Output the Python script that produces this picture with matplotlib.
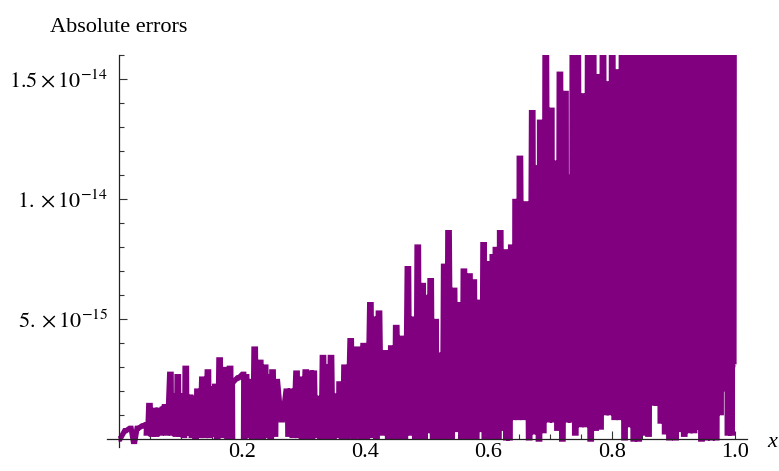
import numpy as np
import matplotlib
matplotlib.use("Agg")
from matplotlib import pyplot as plt
from matplotlib.ticker import FixedLocator, FixedFormatter, NullFormatter

plt.rcParams['font.family'] = ['Liberation Serif', 'DejaVu Serif']
plt.rcParams['mathtext.fontset'] = 'stix'
plt.rcParams['path.simplify'] = False

# absolute error samples, values in units of 1e-15
x_left = [0.000, 0.010, 0.018, 0.024, 0.030, 0.038, 0.043, 0.045, 0.049, 0.053,
          0.057, 0.060, 0.064, 0.067, 0.071, 0.074, 0.077, 0.083, 0.086, 0.089,
          0.092, 0.095, 0.098, 0.102, 0.105, 0.108, 0.111, 0.115, 0.118, 0.122,
          0.124, 0.127, 0.130, 0.135, 0.139, 0.144, 0.147, 0.151, 0.153, 0.156,
          0.159, 0.163, 0.167, 0.172, 0.176, 0.180, 0.183, 0.185, 0.193, 0.201,
          0.203, 0.206, 0.209, 0.213, 0.216, 0.220, 0.224, 0.229, 0.233, 0.237,
          0.240, 0.244, 0.246, 0.249, 0.253, 0.256, 0.264, 0.272, 0.275, 0.279,
          0.282, 0.288, 0.291, 0.295, 0.297, 0.303, 0.307, 0.311, 0.313, 0.316,
          0.320, 0.324, 0.327, 0.331, 0.335, 0.338, 0.340, 0.344, 0.348, 0.353,
          0.355, 0.358, 0.362, 0.366, 0.370]
err_left = [0.00, 0.35, 0.45, -0.10, 0.45, 0.55, 0.60, 0.25, 1.40, 0.20,
            1.20, 0.20, 1.20, 0.25, 1.25, 1.35, 0.25, 2.70, 0.25, 1.80,
            0.20, 2.60, 0.20, 1.80, 0.15, 2.95, 0.25, 1.75, 0.15, 1.70,
            0.10, 2.00, 0.15, 2.50, 0.15, 2.80, 0.15, 2.10, 0.20, 2.20,
            0.10, 3.30, 0.15, 2.90, 0.10, 2.95, 0.10, 2.40, 2.55, 2.70,
            0.10, 2.60, 0.15, 2.40, 0.10, 3.75, 0.10, 3.20, 0.10, 3.00,
            0.15, 2.60, 0.10, 2.80, 0.20, 2.40, 0.80, 2.00, 0.20, 2.00,
            0.15, 2.75, 0.15, 2.50, 0.10, 2.80, 0.10, 2.75, 0.10, 2.75,
            0.15, 1.70, 0.10, 3.40, 0.10, 3.00, 0.10, 3.40, 0.10, 1.80,
            0.15, 2.30, 0.10, 3.00, 0.10]

x_mid = [0.376, 0.381, 0.387, 0.392, 0.397, 0.402, 0.408, 0.412, 0.415, 0.418,
         0.422, 0.427, 0.432, 0.437, 0.442, 0.446, 0.450, 0.455, 0.460, 0.464,
         0.469, 0.473, 0.477, 0.481, 0.485, 0.489, 0.493, 0.496, 0.499, 0.502,
         0.506, 0.510, 0.514, 0.517, 0.521, 0.524, 0.528, 0.531, 0.535, 0.540,
         0.544, 0.548, 0.552, 0.556, 0.560, 0.565, 0.569, 0.572, 0.576, 0.580,
         0.584, 0.588, 0.592, 0.594, 0.597, 0.600, 0.602, 0.605, 0.607, 0.610,
         0.612, 0.616, 0.619, 0.623, 0.627, 0.629, 0.631, 0.634, 0.637, 0.641,
         0.644, 0.648, 0.651, 0.656, 0.661, 0.666, 0.671, 0.675, 0.679, 0.682,
         0.684, 0.689]
err_mid = [4.10, 0.10, 3.75, 0.10, 3.90, 0.10, 5.60, 0.15, 5.00, 0.10,
           5.25, 0.25, 3.60, 0.10, 3.80, 0.10, 4.65, 0.10, 4.20, 0.10,
           7.10, 0.25, 5.00, 0.10, 8.00, 0.10, 6.40, 0.10, 5.90, 0.35,
           6.60, 0.10, 4.90, 0.10, 3.50, 0.10, 7.20, 0.10, 8.60, 0.10,
           6.20, 0.40, 5.60, 0.10, 7.00, 0.10, 6.80, 0.10, 6.55, 0.10,
           5.70, 0.40, 8.10, 0.10, 7.30, 0.10, 7.30, 0.40, 7.60, 0.10,
           7.90, 0.10, 8.60, 0.45, 7.80, 0.05, 6.70, 0.05, 8.00, 0.90,
           9.90, 0.90, 11.70, 0.90, 9.80, 0.05, 13.60, 0.30, 11.30, 0.00,
           13.20, 0.35]

x_right = [0.693, 0.698, 0.702, 0.705, 0.708, 0.712, 0.716, 0.720, 0.725, 0.728,
           0.731, 0.734, 0.737, 0.741, 0.745, 0.749, 0.754, 0.758, 0.762, 0.766,
           0.770, 0.774, 0.778, 0.782, 0.786, 0.790, 0.793, 0.797, 0.801, 0.805,
           0.809, 0.813, 0.817, 0.821, 0.825, 0.828, 0.832, 0.836, 0.840, 0.844,
           0.848, 0.852, 0.856, 0.860, 0.864, 0.868, 0.871, 0.874, 0.877, 0.880,
           0.884, 0.887, 0.891, 0.894, 0.897, 0.899, 0.902, 0.904, 0.907, 0.911,
           0.914, 0.918, 0.922, 0.926, 0.930, 0.934, 0.937, 0.940, 0.943, 0.946,
           0.950, 0.954, 0.958, 0.962, 0.966, 0.970, 0.974, 0.977, 0.980, 0.983,
           0.986, 0.989, 0.992, 0.995, 0.998, 1.000]
err_right = [17, 0.8, 13.7, 0.8, 11.5, 0.45, 15.2, 0.0, 14.4, 0.8,
             10.9, 0.8, 17, 0.25, 17, 0.6, 14.3, 0.6, 17, 0.0,
             17, 0.45, 15.1, 0.5, 17, 1.1, 14.8, 1.1, 17, 0.9,
             15.3, 0.9, 17, 0.05, 17, 0.6, 17, 0.0, 17, 0.0,
             17, 0.25, 17, 0.2, 17, 1.5, 17, 1.5, 17, 0.75,
             17, 0.3, 17, 0.05, 17, 0.4, 17, 0.05, 17, 0.4,
             17, 0.2, 17, 0.35, 17, 0.35, 17, 0.5, 17, 0.0,
             17, 0.05, 17, 0.05, 17, 0.05, 17, 1.1, 17, 2.1,
             17, 0.25, 17, 0.25, 17, 3.1]

x_ticks = [0.2, 0.4, 0.6, 0.8, 1.0]
x_ticklabels = ['0.2', '0.4', '0.6', '0.8', '1.0']
y_ticks = [5e-15, 1e-14, 1.5e-14]
y_ticklabels = [r'$5.\times10^{-15}$', r'$1.\times10^{-14}$', r'$1.5\times10^{-14}$']

xs = np.concatenate([x_left, x_mid, x_right])
errs = np.concatenate([err_left, err_mid, err_right]) * 1e-15

# give every sample a short flat top so the spikes render as blocks
half = 0.0012
xs_draw = np.column_stack([xs - half, xs + half]).ravel()
errs_draw = np.repeat(errs, 2)

fig = plt.figure(figsize=(7.79, 4.71), dpi=100)
ax = fig.add_axes([107 / 779, 24 / 471, 640 / 779, 392 / 471])

ax.plot(xs_draw, errs_draw, color='#800080', lw=3.8, solid_joinstyle='miter',
        solid_capstyle='butt')

ax.set_xlim(-0.02, 1.02)
ax.set_ylim(-0.33e-15, 16e-15)

for side in ['top', 'right']:
    ax.spines[side].set_visible(False)
ax.spines['left'].set_position(('data', 0))
ax.spines['bottom'].set_position(('data', 0))
for side in ['left', 'bottom']:
    ax.spines[side].set_linewidth(0.9)
    ax.spines[side].set_color('#222222')

ax.xaxis.set_major_locator(FixedLocator(x_ticks))
ax.xaxis.set_major_formatter(FixedFormatter(x_ticklabels))
ax.xaxis.set_minor_locator(FixedLocator(np.arange(0.05, 1.01, 0.05)))
ax.xaxis.set_minor_formatter(NullFormatter())
ax.yaxis.set_major_locator(FixedLocator(y_ticks))
ax.yaxis.set_major_formatter(FixedFormatter(y_ticklabels))
ax.yaxis.set_minor_locator(FixedLocator(np.arange(1, 17) * 1e-15))
ax.yaxis.set_minor_formatter(NullFormatter())

ax.tick_params(which='both', direction='in', color='#333333', width=0.8,
               labelsize=16)
ax.tick_params(which='major', length=5.5)
ax.tick_params(which='minor', length=3.5)
ax.tick_params(axis='x', which='major', pad=3)
ax.tick_params(axis='y', which='major', pad=8)

fig.text(119 / 779, 1 - 32 / 471, 'Absolute errors', ha='center',
         va='baseline', fontsize=16)
fig.text(767 / 779, 1 - 447 / 471, 'x', ha='left', va='baseline',
         fontsize=16, style='italic')

fig.savefig('out.png', dpi=100)
